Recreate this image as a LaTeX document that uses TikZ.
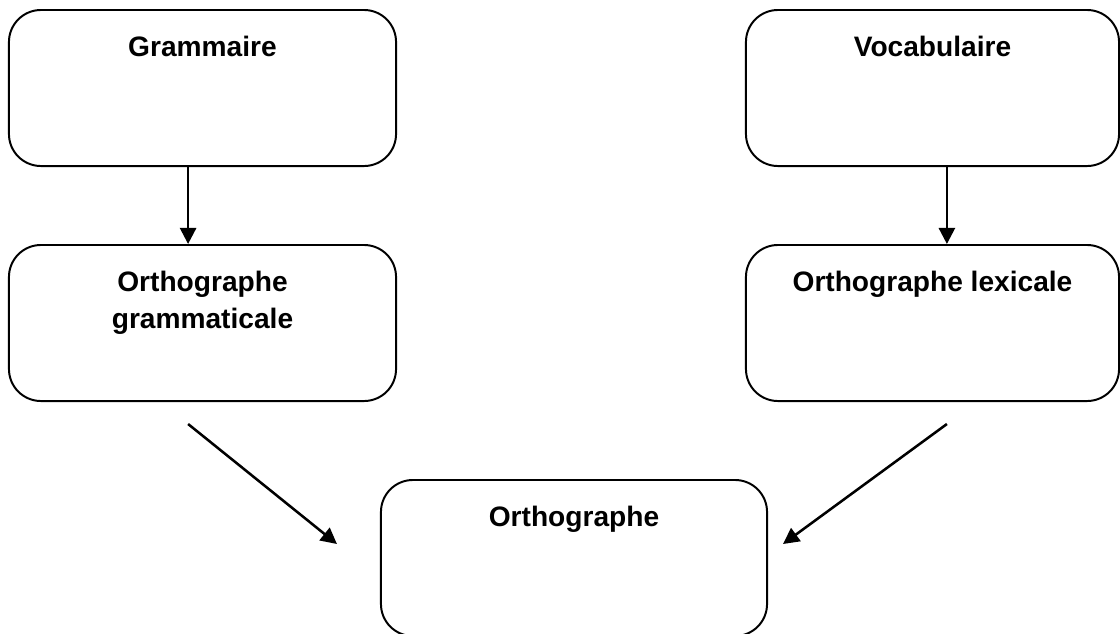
\documentclass[tikz,border=0pt]{standalone}
\usepackage{fontspec}
\setmainfont{Liberation Sans}
\usetikzlibrary{arrows.meta}

\tikzset{
  box/.style={draw, line width=1.4pt, rounded corners=0.8cm, minimum height=3.9cm},
  boxtext/.style={anchor=north, yshift=-0.67cm, inner sep=0pt, align=center,
    font=\bfseries\fontsize{20}{26.2}\selectfont},
  arr/.style={line width=1.8pt, -{Triangle[length=0.4cm, width=0.4cm]}}
}

\begin{document}
\begin{tikzpicture}[x=0.025cm, y=-0.025cm]
			\clip (0,0) rectangle (1120,633);
			% boxes
			\node[box, minimum width=9.675cm, label={[boxtext]north:Grammaire}] (gram) at (202.5,88) {};
			\node[box, minimum width=9.325cm, label={[boxtext]north:Vocabulaire}] (voc) at (932.5,88) {};
			\node[box, minimum width=9.675cm, label={[boxtext]north:Orthographe\\grammaticale}] (orgram) at (202.5,323) {};
			\node[box, minimum width=9.325cm, label={[boxtext]north:Orthographe lexicale}] (orlex) at (932.5,323) {};
			\node[box, minimum width=9.65cm, label={[boxtext]north:Orthographe}] (orth) at (574,558) {};
			% arrows
			\draw[arr] ([xshift=-0.36cm]gram.south) -- ([xshift=-0.36cm]orgram.north);
			\draw[arr] ([xshift=0.36cm]voc.south) -- ([xshift=0.36cm]orlex.north);
			\draw[arr] ([xshift=-0.36cm, yshift=-0.55cm]orgram.south) -- ([xshift=-1.075cm, yshift=0.35cm]orth.west);
			\draw[arr] ([xshift=0.36cm, yshift=-0.55cm]orlex.south) -- ([xshift=0.375cm, yshift=0.35cm]orth.east);
		\end{tikzpicture}
\end{document}
